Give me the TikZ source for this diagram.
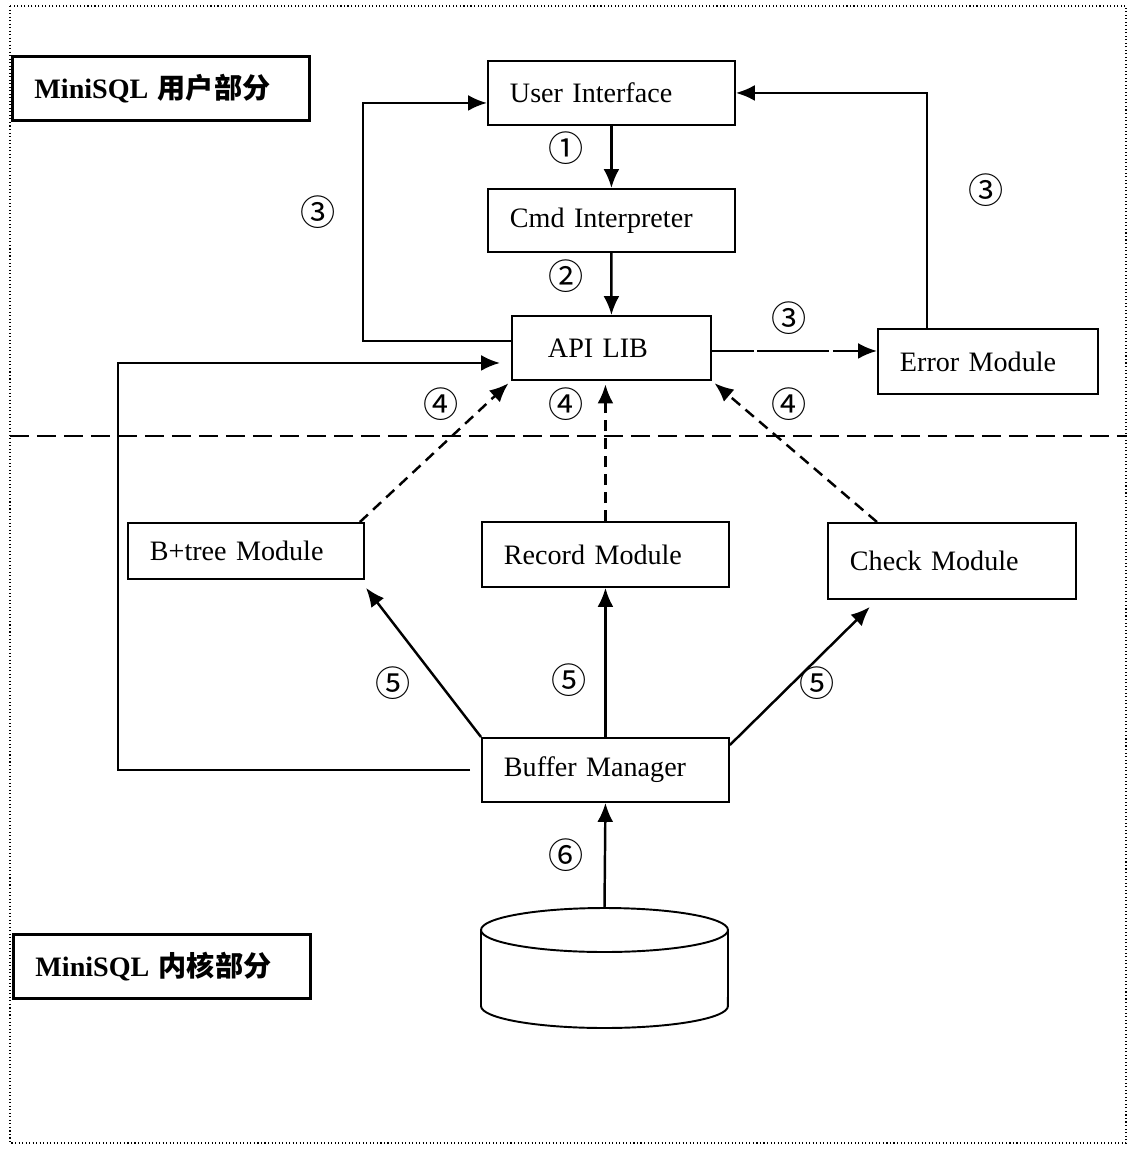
\documentclass[tikz,border=0pt]{standalone}
\usepackage{fontspec}
\setmainfont{Liberation Serif}
\newfontfamily\cjk{Noto Sans CJK SC}
\usetikzlibrary{arrows.meta}

\tikzset{
  mod/.style={draw, line width=1.1pt, anchor=north west, inner xsep=0.44cm, inner ysep=0pt, align=left, font=\fontsize{16}{19}\selectfont},
  part/.style={mod, line width=1.6pt, text width=5.06cm, minimum height=1.28cm},
  arr/.style={line width=1.4pt, -{Latex[length=0.38cm,width=0.32cm]}},
  darr/.style={arr, dash pattern=on 0.22cm off 0.14cm},
  num/.style={font=\cjk\fontsize{20}{20}\selectfont, inner sep=0pt},
  sep/.style={line width=1.1pt, dash pattern=on 0.38cm off 0.16cm},
  frame/.style={line width=0.6pt, dash pattern=on 0.6pt off 1.4pt}
}

\begin{document}
\begin{tikzpicture}[x=0.02cm,y=0.02cm]
\useasboundingbox (0,0) rectangle (1138,-1156);

\draw[frame] (10,-6) rectangle (1126,-1143);
\draw[sep] (10,-436) -- (1127,-436);

\node (user) [part] at (11,-55) {\textbf{MiniSQL} {\cjk\bfseries 用户部分}};
\node (core) [part] at (12,-933) {\textbf{MiniSQL} {\cjk\bfseries 内核部分}};

\node (ui) [mod, text width=4.06cm, minimum height=1.28cm] at (487,-60) {User Interface};
\node (cmd) [mod, text width=4.06cm, minimum height=1.26cm] at (487,-188) {Cmd Interpreter};
\node (api) [mod, inner xsep=0.72cm, text width=2.54cm, minimum height=1.28cm] at (511,-315) {API LIB};
\node (err) [mod, text width=3.52cm, minimum height=1.3cm] at (877,-328) {Error Module};
\node (btree) [mod, text width=3.84cm, minimum height=1.12cm] at (127,-522) {B+tree Module};
\node (rec) [mod, text width=4.06cm, minimum height=1.3cm] at (481,-521) {Record Module};
\node (chk) [mod, text width=4.08cm, minimum height=1.52cm] at (827,-522) {Check Module};
\node (buf) [mod, text width=4.06cm, minimum height=1.28cm] at (481,-737) {Buffer Manager};

% the disk
\coordinate (db) at (604.5,-908);
\draw[line width=1.1pt] (481,-930) -- (481,-1006) arc[start angle=180, end angle=360, x radius=2.47cm, y radius=0.44cm] -- (728,-930);
\draw[line width=1.1pt] (604.5,-930) ellipse [x radius=2.47cm, y radius=0.44cm];

% bends of the two loops
\coordinate (lft) at (363,-221);
\coordinate (far) at (118,-565);

\draw[arr] (ui.south) -- (cmd.north);
\draw[arr] (cmd.south) -- (api.north);
\draw[arr] ([yshift=0.14cm]api.west) -| (lft) |- ([yshift=-0.2cm]ui.west);
\draw[arr] ([xshift=-1.22cm]err.north) |- (ui.east);
\draw[arr, dash pattern=on 1.44cm off 0.07cm, dash phase=0.6cm] ([yshift=-0.06cm]api.east) -- ([yshift=-0.06cm]api.east -| err.west);
\draw[arr] ([xshift=-0.22cm]buf.west) -| (far) |- ([xshift=-0.22cm,yshift=-0.3cm]api.west);

\draw[darr, shorten >=2pt] ([xshift=-0.1cm]btree.north east) -- (api.south west);
\draw[darr, shorten >=2pt] (rec.north) -- (rec.north |- api.south);
\draw[darr, shorten >=2pt] ([xshift=-1.5cm]chk.north) -- (api.south east);

\draw[arr, shorten >=0.2cm] (buf.north west) -- ([xshift=-0.1cm]btree.south east);
\draw[arr] (buf.north) -- (buf.north |- rec.south);
\draw[arr, shorten >=0.2cm] ([yshift=-0.16cm]buf.north east) -- ([xshift=-1.5cm]chk.south);
\draw[arr] (db) -- (buf.south);

\node (c1) [num] at (566,-148) {①};
\node (c2) [num] at (566,-276) {②};
\node (c3a) [num] at (318,-212) {③};
\node (c3b) [num] at (986,-190) {③};
\node (c3c) [num] at (789,-318) {③};
\node (c4a) [num] at (441,-404) {④};
\node (c4b) [num] at (566,-404) {④};
\node (c4c) [num] at (789,-404) {④};
\node (c5a) [num] at (393,-683) {⑤};
\node (c5b) [num] at (569,-680) {⑤};
\node (c5c) [num] at (817,-683) {⑤};
\node (c6) [num] at (566,-855) {⑥};

\end{tikzpicture}
\end{document}
